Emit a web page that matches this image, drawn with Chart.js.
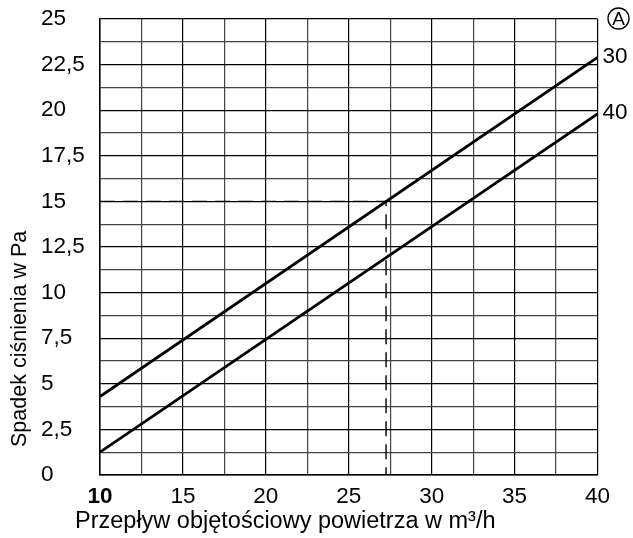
<!DOCTYPE html>
<html>
<head>
<meta charset="utf-8">
<script src="https://cdn.jsdelivr.net/npm/chart.js@4.4.1/dist/chart.umd.min.js"></script>
<style>
  html, body { margin: 0; padding: 0; background: #fff; }
  #wrap { width: 633px; height: 538px; }
</style>
</head>
<body>
<div id="wrap"><canvas id="c" width="633" height="538"></canvas></div>
<script>
// ---- data ----
const flowEnds = [10, 40];                 // m³/h
const drop30 = [4.3, 22.9];                // Pa, curve "30"
const drop40 = [1.25, 19.8];               // Pa, curve "40"
const seriesNames = ['30', '40'];
const refFlow = [10, 27.25, 27.25];        // dashed reading line
const refDrop = [15, 15, 0];
const xTickValues = [10, 15, 20, 25, 30, 35, 40];
const xTickLabels = ['10', '15', '20', '25', '30', '35', '40'];
const yTickValues = [0, 2.5, 5, 7.5, 10, 12.5, 15, 17.5, 20, 22.5, 25];
const yTickLabels = ['0', '2,5', '5', '7,5', '10', '12,5', '15', '17,5', '20', '22,5', '25'];
const xTitle = 'Przepływ objętościowy powietrza w m³/h';
const yTitle = 'Spadek ciśnienia w Pa';
const markerLabel = 'A';

const FONT = '"Liberation Sans", Arial, sans-serif';
const toPts = (xs, ys) => xs.map((x, i) => ({ x: x, y: ys[i] }));

const annotPlugin = {
  id: 'annot',
  afterDraw(chart) {
    const ctx = chart.ctx;
    const ca = chart.chartArea;
    ctx.save();
    ctx.fillStyle = '#000';
    // series labels at the right ends of the curves
    ctx.font = '22.5px ' + FONT;
    ctx.textAlign = 'left';
    ctx.textBaseline = 'middle';
    [0, 1].forEach(i => {
      const pts = chart.getDatasetMeta(i).data;
      const p = pts[pts.length - 1];
      ctx.fillText(seriesNames[i], p.x + 5, p.y - 1);
    });
    // circled marker
    const cx = ca.right + 21, cy = ca.top - 0.5;
    ctx.beginPath();
    ctx.arc(cx, cy, 10.5, 0, Math.PI * 2);
    ctx.lineWidth = 1.3;
    ctx.strokeStyle = '#000';
    ctx.stroke();
    ctx.font = '19px ' + FONT;
    ctx.textAlign = 'center';
    ctx.fillText(markerLabel, cx, cy + 1);
    // x axis title
    ctx.font = '23.5px ' + FONT;
    ctx.textAlign = 'left';
    ctx.textBaseline = 'alphabetic';
    ctx.fillText(xTitle, ca.left - 25, 528);
    // y axis title
    ctx.translate(26, ca.bottom - 28);
    ctx.rotate(-Math.PI / 2);
    ctx.font = '21.5px ' + FONT;
    ctx.textAlign = 'left';
    ctx.fillText(yTitle, 0, 0);
    ctx.restore();
  }
};

const lineBase = { borderColor: '#000', pointRadius: 0, tension: 0, fill: false };

new Chart(document.getElementById('c'), {
  type: 'line',
  data: {
    datasets: [
      Object.assign({ label: seriesNames[0], data: toPts(flowEnds, drop30), borderWidth: 2.8 }, lineBase),
      Object.assign({ label: seriesNames[1], data: toPts(flowEnds, drop40), borderWidth: 2.8 }, lineBase),
      Object.assign({ label: 'ref', data: toPts(refFlow, refDrop), borderWidth: 1.4, borderDash: [15, 8] }, lineBase)
    ]
  },
  options: {
    responsive: false,
    animation: false,
    devicePixelRatio: 1,
    layout: { padding: { left: 41, right: 35.5, top: 19, bottom: 0 } },
    plugins: { legend: { display: false }, tooltip: { enabled: false } },
    scales: {
      x: {
        type: 'linear',
        min: 10, max: 40,
        ticks: {
          stepSize: 2.5,
          autoSkip: false,
          maxRotation: 0,
          padding: 8,
          color: '#000',
          font: c => ({ family: FONT, size: 22.5, weight: (c.tick && c.tick.value === 10) ? 'bold' : 'normal' }),
          callback: v => { const i = xTickValues.indexOf(v); return i >= 0 ? xTickLabels[i] : ''; }
        },
        grid: {
          drawTicks: false,
          lineWidth: 1.2,
          color: c => (c.tick && xTickValues.indexOf(c.tick.value) >= 0) ? '#000' : '#444'
        },
        border: { display: true, color: '#000', width: 1.5 },
        afterFit: s => { s.height = 63; }
      },
      y: {
        type: 'linear',
        min: 0, max: 25,
        ticks: {
          stepSize: 1.25,
          autoSkip: false,
          crossAlign: 'far',
          color: '#000',
          font: { family: FONT, size: 22.5 },
          callback: v => { const i = yTickValues.indexOf(v); return i >= 0 ? yTickLabels[i] : ''; }
        },
        grid: {
          drawTicks: false,
          lineWidth: 1.2,
          color: c => (c.tick && yTickValues.indexOf(c.tick.value) >= 0) ? '#000' : '#444'
        },
        border: { display: true, color: '#000', width: 1.5 },
        afterFit: s => { s.width = 59; }
      }
    }
  },
  plugins: [annotPlugin]
});
</script>
</body>
</html>
